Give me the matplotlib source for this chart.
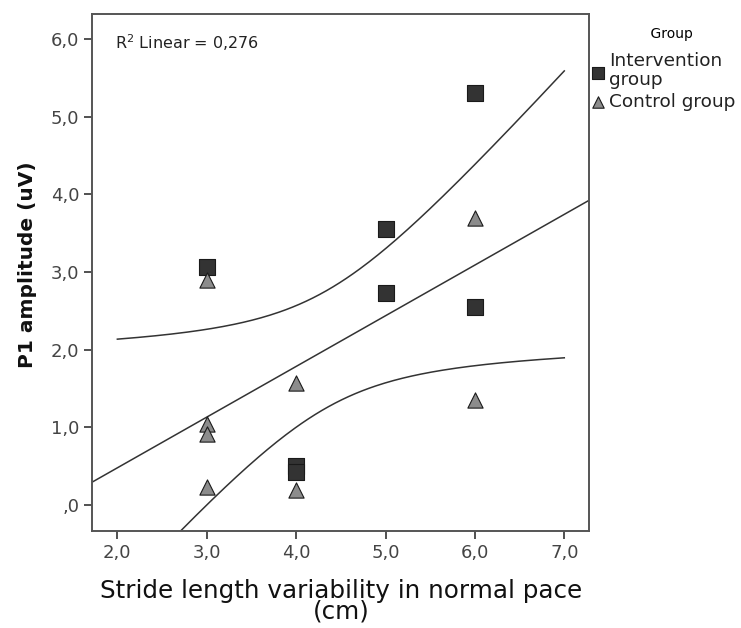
import numpy as np
import matplotlib
matplotlib.use("Agg")
import matplotlib.pyplot as plt

# Stride length variability (cm) vs P1 amplitude (uV)
int_x = [3, 5, 5, 6, 6, 4, 4]
int_y = [3.07, 3.56, 2.73, 5.31, 2.55, 0.50, 0.43]
ctl_x = [3, 3, 3, 3, 4, 4, 6, 6]
ctl_y = [2.90, 1.04, 0.91, 0.23, 1.57, 0.19, 3.69, 1.35]

x_ticks = [2.0, 3.0, 4.0, 5.0, 6.0, 7.0]
y_ticks = [0.0, 1.0, 2.0, 3.0, 4.0, 5.0, 6.0]
r2_text = "R$^2$ Linear = 0,276"


def comma(v):
    s = "%.1f" % v
    s = s.replace(".", ",")
    if s.startswith("0"):
        s = s[1:]
    return s


fig = plt.figure(figsize=(7.41, 6.28), dpi=100)
ax = fig.add_axes([0.1246, 0.1545, 0.6707, 0.8227])

# linear fit with 95% CI of the mean, over all cases
x_all = np.array(int_x + ctl_x, dtype=float)
y_all = np.array(int_y + ctl_y, dtype=float)
n = len(x_all)
slope, icpt = np.polyfit(x_all, y_all, 1)
resid = y_all - (icpt + slope * x_all)
s = np.sqrt(np.sum(resid ** 2) / (n - 2))
sxx = np.sum((x_all - x_all.mean()) ** 2)
t_crit = 2.160  # t(0.975, 13)

xlo, xhi = 1.72, 7.28
line_x = np.linspace(xlo, xhi, 200)
ax.plot(line_x, icpt + slope * line_x, color="#333333", lw=1.1, zorder=2)

band_x = np.linspace(2.0, 7.0, 200)
fit = icpt + slope * band_x
half = t_crit * s * np.sqrt(1.0 / n + (band_x - x_all.mean()) ** 2 / sxx)
ax.plot(band_x, fit + half, color="#333333", lw=1.1, zorder=2)
ax.plot(band_x, fit - half, color="#333333", lw=1.1, zorder=2)

ax.scatter(int_x, int_y, marker="s", s=130, c="#333333", edgecolors="#1a1a1a",
           linewidths=0.8, zorder=3, label="Intervention\ngroup")
ax.scatter(ctl_x, ctl_y, marker="^", s=120, c="#8c8c8c", edgecolors="#1a1a1a",
           linewidths=0.8, zorder=3, label="Control group")

ax.set_xlim(xlo, xhi)
ax.set_ylim(-0.335, 6.32)
ax.set_xticks(x_ticks)
ax.set_xticklabels([comma(v) for v in x_ticks])
ax.set_yticks(y_ticks)
ax.set_yticklabels([comma(v) for v in y_ticks])
ax.tick_params(direction="out", length=6, width=1.2, colors="#333333",
               labelsize=13, labelcolor="#444444")

for sp in ax.spines.values():
    sp.set_color("#555555")
    sp.set_linewidth(1.4)

ax.set_xlabel("Stride length variability in normal pace\n(cm)", fontsize=17.7,
              color="#111111", linespacing=0.85, labelpad=12)
ax.set_ylabel("P1 amplitude (uV)", fontsize=14.5, fontweight="bold",
              color="#111111")
ax.yaxis.set_label_coords(-0.111, 0.516)

ax.text(0.045, 0.945, r2_text, transform=ax.transAxes, fontsize=11.5,
        color="#222222", va="center", ha="left")

leg = ax.legend(loc="upper left", bbox_to_anchor=(0.982, 0.993), frameon=False,
                title="    Group", title_fontsize=10, fontsize=13.3,
                handletextpad=0.15, handlelength=0.9, borderaxespad=0.1,
                labelspacing=0.2, markerscale=0.75)
leg._legend_box.sep = 8
for t in leg.get_texts():
    t.set_color("#222222")
    t.set_linespacing(1.05)

fig.savefig("out.png", dpi=100)
